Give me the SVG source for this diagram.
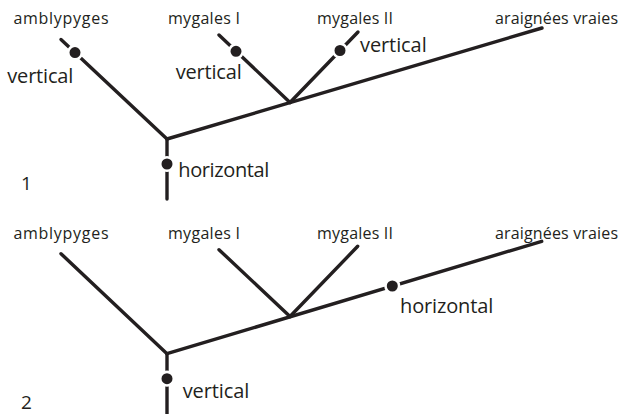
<svg xmlns="http://www.w3.org/2000/svg" width="621" height="414" viewBox="0 0 621 414">
<style>
.br{stroke:#231f20;stroke-width:3.4;stroke-linecap:round;fill:none}
.dot{fill:#231f20;stroke:#fff;stroke-width:2.6}
text{font-family:"Open Sans","Noto Sans","Liberation Sans",sans-serif;fill:#231f20}
.s{font-size:16px}
.b{font-size:20px}
.n{font-size:19px}
</style>
<rect width="621" height="414" fill="#fff"/>
<g id="connectors">
<line class="br" x1="61" y1="39.5" x2="167" y2="139"/>
<line class="br" x1="167" y1="139" x2="167" y2="199"/>
<line class="br" x1="167" y1="139" x2="542" y2="28"/>
<line class="br" x1="219" y1="35" x2="290" y2="102.5"/>
<line class="br" x1="358" y1="32" x2="290" y2="102.5"/>
<line class="br" x1="61" y1="253.7" x2="167" y2="353.7"/>
<line class="br" x1="167" y1="353.7" x2="167" y2="416"/>
<line class="br" x1="167" y1="353.7" x2="541.7" y2="241.3"/>
<line class="br" x1="219" y1="249.7" x2="290" y2="316.5"/>
<line class="br" x1="357.7" y1="246.3" x2="290" y2="316.5"/>
</g>
<g id="markers">
<circle class="dot" cx="75" cy="52.6" r="6.8"/>
<circle class="dot" cx="236" cy="51.3" r="6.8"/>
<circle class="dot" cx="340" cy="50.5" r="6.8"/>
<circle class="dot" cx="167" cy="164" r="6.8"/>
<circle class="dot" cx="167" cy="378.7" r="6.8"/>
<circle class="dot" cx="392.3" cy="286" r="6.8"/>
</g>
<g id="tree1">
<g id="t1-amblypyges"><text class="s" x="13.5" y="24" textLength="95" lengthAdjust="spacing">amblypyges</text></g>
<g id="t1-mygales1"><text class="s" x="168" y="24" textLength="72" lengthAdjust="spacing">mygales I</text></g>
<g id="t1-mygales2"><text class="s" x="317" y="24" textLength="76" lengthAdjust="spacing">mygales II</text></g>
<g id="t1-araignees"><text class="s" x="495" y="24" textLength="123" lengthAdjust="spacing">araignées vraies</text></g>
<g id="t1-v1"><text class="b" x="7.3" y="83.3" textLength="66" lengthAdjust="spacing">vertical</text></g>
<g id="t1-v2"><text class="b" x="175.7" y="79" textLength="66" lengthAdjust="spacing">vertical</text></g>
<g id="t1-v3"><text class="b" x="360" y="52.3" textLength="66.7" lengthAdjust="spacing">vertical</text></g>
<g id="t1-h"><text class="b" x="178.3" y="177" textLength="91" lengthAdjust="spacing">horizontal</text></g>
<g id="t1-num"><text class="n" x="21" y="190">1</text></g>
</g>
<g id="tree2">
<g id="t2-amblypyges"><text class="s" x="13.5" y="238.5" textLength="95" lengthAdjust="spacing">amblypyges</text></g>
<g id="t2-mygales1"><text class="s" x="168" y="238.5" textLength="72" lengthAdjust="spacing">mygales I</text></g>
<g id="t2-mygales2"><text class="s" x="317" y="238.5" textLength="76" lengthAdjust="spacing">mygales II</text></g>
<g id="t2-araignees"><text class="s" x="495" y="238.5" textLength="123" lengthAdjust="spacing">araignées vraies</text></g>
<g id="t2-v"><text class="b" x="182.7" y="397.7" textLength="66.6" lengthAdjust="spacing">vertical</text></g>
<g id="t2-h"><text class="b" x="400" y="313" textLength="93.3" lengthAdjust="spacing">horizontal</text></g>
<g id="t2-num"><text class="n" x="21" y="409">2</text></g>
</g>
</svg>
